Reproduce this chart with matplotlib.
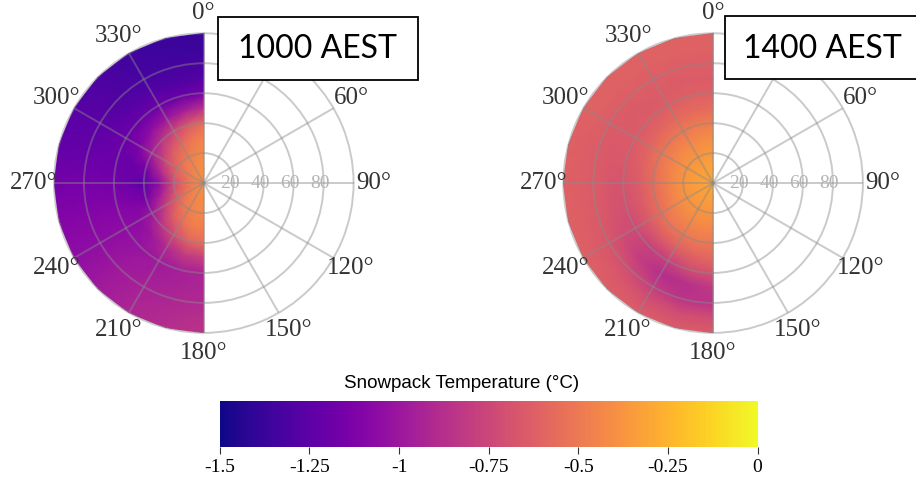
import numpy as np
import matplotlib.pyplot as plt
from matplotlib.patches import Rectangle

# grid of the snowpack field: azimuth (deg, clockwise from N) x radial distance
angles_deg = [180, 195, 210, 225, 240, 255, 270, 285, 300, 315, 330, 345, 360]
radii = [0, 10, 20, 30, 40, 50, 60, 70, 80, 90, 100]

# snowpack temperature (deg C), one row per azimuth, one column per radius
temp_1000 = [
    [-0.40, -0.41, -0.43, -0.46, -0.55, -0.78, -0.93, -0.92, -0.90, -0.87, -0.85],
    [-0.40, -0.42, -0.44, -0.48, -0.60, -0.82, -0.95, -0.94, -0.92, -0.90, -0.88],
    [-0.40, -0.43, -0.47, -0.55, -0.72, -0.90, -0.98, -0.97, -0.95, -0.93, -0.92],
    [-0.40, -0.45, -0.52, -0.65, -0.85, -1.00, -1.02, -1.00, -0.99, -0.98, -0.98],
    [-0.40, -0.47, -0.60, -0.80, -1.00, -1.07, -1.06, -1.05, -1.05, -1.05, -1.05],
    [-0.40, -0.50, -0.68, -0.95, -1.15, -1.12, -1.10, -1.10, -1.10, -1.10, -1.10],
    [-0.40, -0.50, -0.72, -1.05, -1.25, -1.20, -1.17, -1.16, -1.16, -1.16, -1.17],
    [-0.40, -0.50, -0.65, -0.90, -1.15, -1.20, -1.20, -1.20, -1.21, -1.22, -1.22],
    [-0.40, -0.48, -0.58, -0.75, -0.95, -1.12, -1.20, -1.23, -1.25, -1.26, -1.27],
    [-0.40, -0.45, -0.52, -0.65, -0.85, -1.05, -1.20, -1.26, -1.29, -1.30, -1.31],
    [-0.40, -0.43, -0.48, -0.58, -0.75, -1.00, -1.20, -1.28, -1.32, -1.34, -1.35],
    [-0.40, -0.42, -0.45, -0.50, -0.65, -0.95, -1.20, -1.30, -1.33, -1.36, -1.37],
    [-0.40, -0.40, -0.42, -0.45, -0.55, -0.85, -1.15, -1.28, -1.33, -1.36, -1.38],
]

temp_1400 = [
    [-0.30, -0.33, -0.37, -0.43, -0.50, -0.58, -0.68, -0.82, -0.85, -0.72, -0.65],
    [-0.30, -0.33, -0.37, -0.43, -0.50, -0.60, -0.72, -0.87, -0.85, -0.72, -0.65],
    [-0.30, -0.33, -0.37, -0.43, -0.51, -0.62, -0.78, -0.88, -0.80, -0.70, -0.64],
    [-0.30, -0.33, -0.37, -0.44, -0.52, -0.64, -0.78, -0.80, -0.72, -0.66, -0.63],
    [-0.30, -0.33, -0.38, -0.45, -0.54, -0.65, -0.73, -0.72, -0.67, -0.64, -0.62],
    [-0.30, -0.33, -0.38, -0.46, -0.56, -0.65, -0.70, -0.68, -0.65, -0.63, -0.62],
    [-0.30, -0.33, -0.38, -0.46, -0.56, -0.64, -0.68, -0.67, -0.64, -0.63, -0.62],
    [-0.30, -0.33, -0.38, -0.45, -0.54, -0.62, -0.66, -0.66, -0.64, -0.63, -0.62],
    [-0.30, -0.33, -0.37, -0.44, -0.52, -0.60, -0.65, -0.65, -0.64, -0.62, -0.62],
    [-0.30, -0.33, -0.37, -0.43, -0.51, -0.59, -0.64, -0.65, -0.63, -0.62, -0.62],
    [-0.30, -0.33, -0.37, -0.43, -0.50, -0.58, -0.63, -0.64, -0.63, -0.62, -0.62],
    [-0.30, -0.32, -0.36, -0.42, -0.49, -0.57, -0.62, -0.64, -0.63, -0.62, -0.62],
    [-0.30, -0.32, -0.35, -0.41, -0.48, -0.56, -0.62, -0.64, -0.63, -0.62, -0.62],
]

titles = ["1000 AEST", "1400 AEST"]
theta_ticks = list(range(0, 360, 30))
ring_ticks = [20, 40, 60, 80]
cbar_ticks = [-1.5, -1.25, -1, -0.75, -0.5, -0.25, 0]
cbar_labels = ["-1.5", "-1.25", "-1", "-0.75", "-0.5", "-0.25", "0"]

serif = "Liberation Serif"

fig = plt.figure(figsize=(9.16, 4.78), dpi=100)

T, R = np.meshgrid(np.deg2rad(angles_deg), radii, indexing="ij")

# 30 deg label sits under the time box in the original, so it is left blank
theta_labels = ["" if a == 30 else f"{a}\u00b0" for a in theta_ticks]

axes_pos = [[0.059, 0.303, 0.327, 0.628], [0.615, 0.303, 0.327, 0.628]]
for pos, data in zip(axes_pos, [temp_1000, temp_1400]):
    ax = fig.add_axes(pos, projection="polar")
    ax.set_theta_zero_location("N")
    ax.set_theta_direction(-1)
    mesh = ax.pcolormesh(T, R, np.array(data), shading="gouraud",
                         cmap="plasma", vmin=-1.5, vmax=0)
    ax.set_ylim(0, 100)
    ax.set_axisbelow(False)
    ax.set_thetagrids(theta_ticks, theta_labels,
                      fontsize=18, family=serif, color="#333333")
    ax.tick_params(axis="x", pad=4)
    ax.set_rgrids(ring_ticks, labels=[""] * len(ring_ticks))
    ax.grid(True, color="#8a8a8a", alpha=0.45, linewidth=1.4)
    ax.spines["polar"].set_color("#8a8a8a")
    ax.spines["polar"].set_alpha(0.45)
    ax.spines["polar"].set_linewidth(1.4)
    for r in ring_ticks:
        ax.text(np.pi / 2, r - 2.5, str(r), fontsize=14, family=serif,
                color="#b4b4b4", ha="center", va="center")

# colour bar
cax = fig.add_axes([0.240, 0.065, 0.587, 0.096])
cb = fig.colorbar(mesh, cax=cax, orientation="horizontal", ticks=cbar_ticks)
cb.outline.set_visible(False)
cb.ax.set_xticklabels(cbar_labels, family=serif, fontsize=14)
cb.ax.tick_params(length=5, color="#333333")
fig.text(462 / 916, 1 - 384 / 478, "Snowpack Temperature (\u00b0C)",
         family="Liberation Sans", fontsize=13.5, ha="center", va="center")

# time label boxes
boxes = [[218, 17, 200, 63], [725, 16, 220, 63]]
for (bx, by, bw, bh), txt in zip(boxes, titles):
    fig.patches.append(Rectangle((bx / 916, 1 - (by + bh) / 478), bw / 916, bh / 478,
                                 transform=fig.transFigure, facecolor="white",
                                 edgecolor="black", linewidth=1.3, zorder=5))
    fig.text((bx + 100) / 916 if bw == 200 else (bx + 18) / 916,
             1 - (by + bh / 2 + 1) / 478, txt, fontsize=23, family="Lato",
             ha="center" if bw == 200 else "left", va="center", zorder=6)

fig.savefig("out.png", dpi=100)
